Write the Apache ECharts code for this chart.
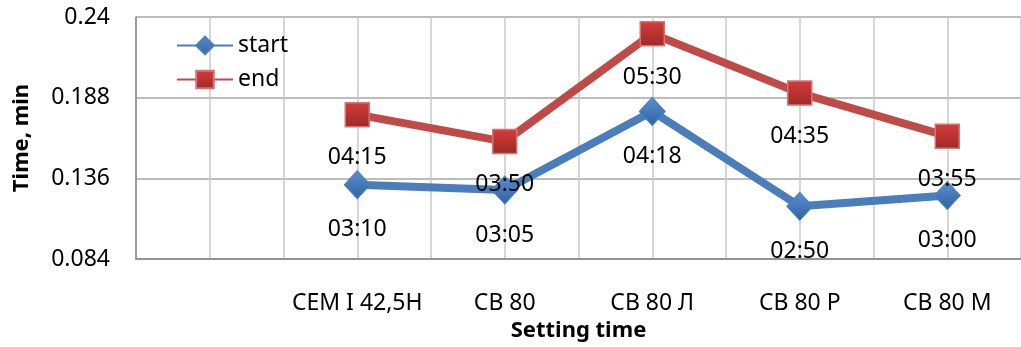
<!DOCTYPE html>
<html>
<head>
<meta charset="utf-8">
<script src="https://cdn.jsdelivr.net/npm/echarts@6/dist/echarts.min.js"></script>
<style>
  html, body { margin: 0; padding: 0; background: #fff; }
  #chart { width: 1021px; height: 347px; }
</style>
</head>
<body>
<div id="chart"></div>
<script>
// Cement mixes; the first slot on the axis is left empty
const categories = ['', 'CEM I 42,5H', 'CB 80', 'CB 80 Л', 'CB 80 P', 'CB 80 M'];
// Setting times (hh:mm), plotted as fractions of a day
const startTimes = ['03:10', '03:05', '04:18', '02:50', '03:00'];
const endTimes = ['04:15', '03:50', '05:30', '04:35', '03:55'];
const yTicks = [0.084, 0.136, 0.188, 0.24];

const toDay = t => { const [h, m] = t.split(':').map(Number); return (h * 60 + m) / 1440; };
const toClock = v => {
  const mins = Math.round(v * 1440);
  const h = Math.floor(mins / 60), m = mins % 60;
  return String(h).padStart(2, '0') + ':' + String(m).padStart(2, '0');
};

const startData = ['-'].concat(startTimes.map(toDay));
const endData = ['-'].concat(endTimes.map(toDay));

const FONT = 'Noto Sans';
const SIZE = 23;
const chart = echarts.init(document.getElementById('chart'));

const labelStyle = {
  show: true,
  position: 'bottom',
  distance: 19,
  fontFamily: FONT,
  fontSize: SIZE,
  color: '#000',
  formatter: p => toClock(p.value)
};

chart.setOption({
  animation: false,
  backgroundColor: '#fff',
  textStyle: { fontFamily: FONT },
  grid: { left: 136, right: -8, top: 17, bottom: 86 },
  legend: {
    left: 171,
    top: 29,
    orient: 'vertical',
    itemWidth: 56,
    itemHeight: 22,
    itemGap: 11,
    textStyle: { fontFamily: FONT, fontSize: SIZE, color: '#000' },
    data: ['start', 'end']
  },
  xAxis: [
    {
      type: 'category',
      data: categories,
      boundaryGap: true,
      name: 'Setting time',
      nameLocation: 'middle',
      nameGap: 60,
      nameTextStyle: { fontFamily: FONT, fontSize: 22, fontWeight: 'bold', color: '#000' },
      axisLine: { lineStyle: { color: '#868686', width: 1.5 } },
      axisTick: { show: false },
      axisLabel: { interval: 0, margin: 33, fontFamily: FONT, fontSize: SIZE, color: '#000' },
      splitLine: { show: false }
    },
    {
      // half-band gridlines
      type: 'value',
      position: 'bottom',
      min: 0,
      max: 12,
      interval: 1,
      axisLine: { show: false },
      axisTick: { show: false },
      axisLabel: { show: false },
      splitLine: { show: true, lineStyle: { color: '#c8c8c8', width: 1.5 } }
    }
  ],
  yAxis: {
    type: 'value',
    min: yTicks[0],
    max: yTicks[yTicks.length - 1],
    name: 'Time, min',
    nameLocation: 'middle',
    nameGap: 103,
    nameTextStyle: { fontFamily: FONT, fontSize: 22, fontWeight: 'bold', color: '#000' },
    axisLine: { show: true, lineStyle: { color: '#868686', width: 1.5 } },
    axisTick: { show: false, customValues: yTicks },
    axisLabel: {
      customValues: yTicks,
      margin: 26,
      fontFamily: FONT,
      fontSize: SIZE,
      color: '#000',
      formatter: v => String(+v.toFixed(3))
    },
    splitLine: { show: true, lineStyle: { color: '#a6a6a6', width: 1.5 } }
  },
  series: [
    {
      name: 'start',
      type: 'line',
      data: startData,
      symbol: 'diamond',
      symbolSize: [26, 28],
      lineStyle: { color: '#4a7ebb', width: 8 },
      itemStyle: {
        color: new echarts.graphic.LinearGradient(0, 0, 0, 1, [
          { offset: 0, color: '#5a8fd0' },
          { offset: 1, color: '#2f62a3' }
        ]),
        borderColor: '#4a7ebb',
        borderWidth: 1
      },
      label: labelStyle,
      z: 3
    },
    {
      name: 'end',
      type: 'line',
      data: endData,
      symbol: 'rect',
      symbolSize: 24,
      lineStyle: { color: '#be4b48', width: 8 },
      itemStyle: {
        color: new echarts.graphic.LinearGradient(0, 0, 0, 1, [
          { offset: 0, color: '#d53c3a' },
          { offset: 1, color: '#9c2a28' }
        ]),
        borderColor: '#d77473',
        borderWidth: 1.5
      },
      label: labelStyle,
      z: 4
    }
  ]
});
</script>
</body>
</html>
